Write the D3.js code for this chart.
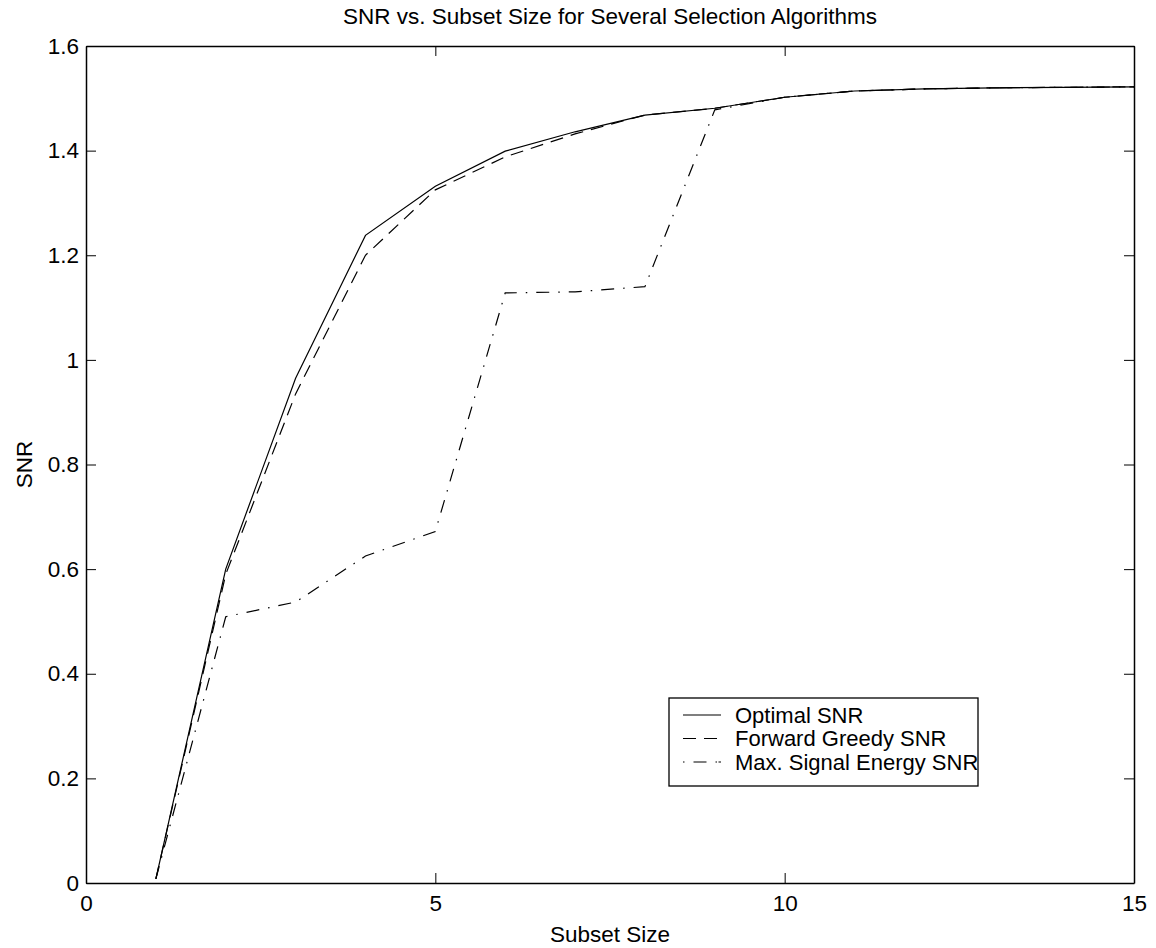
<!DOCTYPE html>
<html>
<head>
<meta charset="utf-8">
<script src="https://cdn.jsdelivr.net/npm/d3@7"></script>
<style>
  body { margin: 0; background: #fff; }
  svg text { font-family: Arial, "Liberation Sans", Helvetica, sans-serif; fill: #000; }
</style>
</head>
<body>
<svg id="chart" width="1156" height="948"></svg>
<script>
// values
const subsetSizes = [1, 2, 3, 4, 5, 6, 7, 8, 9, 10, 11, 12, 13, 14, 15];
const optimalSNR = [0.008, 0.600, 0.965, 1.238, 1.332, 1.399, 1.436, 1.468, 1.481, 1.502, 1.514, 1.518, 1.520, 1.521, 1.522];
const greedySNR  = [0.008, 0.590, 0.935, 1.200, 1.325, 1.388, 1.432, 1.468, 1.481, 1.502, 1.514, 1.518, 1.520, 1.521, 1.522];
const energySNR  = [0.008, 0.509, 0.537, 0.625, 0.672, 1.128, 1.130, 1.140, 1.478, 1.502, 1.514, 1.518, 1.520, 1.521, 1.522];
const xTicks = [0, 5, 10, 15];
const yTicks = [0, 0.2, 0.4, 0.6, 0.8, 1, 1.2, 1.4, 1.6];
const seriesNames = ["Optimal SNR", "Forward Greedy SNR", "Max. Signal Energy SNR"];

const margin = { left: 86, top: 46, right: 1134, bottom: 883 };
const fontSize = "22.5px";

const svg = d3.select("#chart");

let x = d3.scaleLinear().domain([0, 15]).range([margin.left, margin.right]);
let y = d3.scaleLinear().domain([0, 1.6]).range([margin.bottom, margin.top]);

// dash styles like matlab: solid, dashed, dash-dot
const dashes = [null, "13,8", "13,9,1.5,9"];

// box + ticks (matlab style, ticks pointing in, on all four sides)
svg.append("g")
  .attr("transform", `translate(0,${margin.bottom})`)
  .call(d3.axisBottom(x).tickValues(xTicks).tickSizeInner(-10).tickSizeOuter(0).tickPadding(12).tickFormat(d3.format("d")))
  .call(g => g.select(".domain").attr("stroke-width", 1.5));
svg.append("g")
  .attr("transform", `translate(0,${margin.top})`)
  .call(d3.axisTop(x).tickValues(xTicks).tickSizeInner(-10).tickSizeOuter(0).tickFormat(""))
  .call(g => g.select(".domain").attr("stroke-width", 1.3));
svg.append("g")
  .attr("transform", `translate(${margin.left},0)`)
  .call(d3.axisLeft(y).tickValues(yTicks).tickSizeInner(-10).tickSizeOuter(0).tickPadding(7).tickFormat(d => d3.format("")(+d.toFixed(1))))
  .call(g => g.select(".domain").attr("stroke-width", 1.5));
svg.append("g")
  .attr("transform", `translate(${margin.right},0)`)
  .call(d3.axisRight(y).tickValues(yTicks).tickSizeInner(-10).tickSizeOuter(0).tickFormat(""))
  .call(g => g.select(".domain").attr("stroke-width", 1.5));

svg.selectAll(".tick text").style("font-size", fontSize).attr("fill", "#000");
svg.selectAll(".tick line").attr("stroke", "#000");

let line = d3.line()
  .x((d, i) => x(subsetSizes[i]))
  .y(d => y(d));

const allSeries = [optimalSNR, greedySNR, energySNR];

svg.append("g")
  .selectAll("path")
  .data(allSeries)
  .enter()
  .append("path")
  .attr("d", d => line(d))
  .attr("fill", "none")
  .attr("stroke", "#000")
  .attr("stroke-width", 1.2)
  .attr("stroke-dasharray", (d, i) => dashes[i]);

// title and axis labels
svg.append("text")
  .attr("x", (margin.left + margin.right) / 2)
  .attr("y", 24)
  .attr("text-anchor", "middle")
  .style("font-size", fontSize)
  .text("SNR vs. Subset Size for Several Selection Algorithms");

svg.append("text")
  .attr("x", (margin.left + margin.right) / 2)
  .attr("y", 942)
  .attr("text-anchor", "middle")
  .style("font-size", fontSize)
  .text("Subset Size");

svg.append("text")
  .attr("transform", `translate(32,${(margin.top + margin.bottom) / 2}) rotate(-90)`)
  .attr("text-anchor", "middle")
  .style("font-size", fontSize)
  .text("SNR");

// legend
let legend = svg.append("g").attr("transform", "translate(669,698)");
legend.append("rect")
  .attr("width", 309)
  .attr("height", 88)
  .attr("fill", "#fff")
  .attr("stroke", "#000")
  .attr("stroke-width", 1.3);

let rows = legend.selectAll("g.row")
  .data(seriesNames)
  .enter()
  .append("g")
  .attr("class", "row")
  .attr("transform", (d, i) => `translate(0,${17 + i * 23.5})`);

rows.append("line")
  .attr("x1", 14).attr("x2", 52)
  .attr("y1", 0).attr("y2", 0)
  .attr("stroke", "#000")
  .attr("stroke-width", 1.2)
  .attr("stroke-dasharray", (d, i) => i == 2 ? "1.5,9,13,9,1.5" : dashes[i]);

rows.append("text")
  .attr("x", 66)
  .attr("y", 0)
  .attr("dy", "0.36em")
  .style("font-size", "22px")
  .text(d => d);
</script>
</body>
</html>
